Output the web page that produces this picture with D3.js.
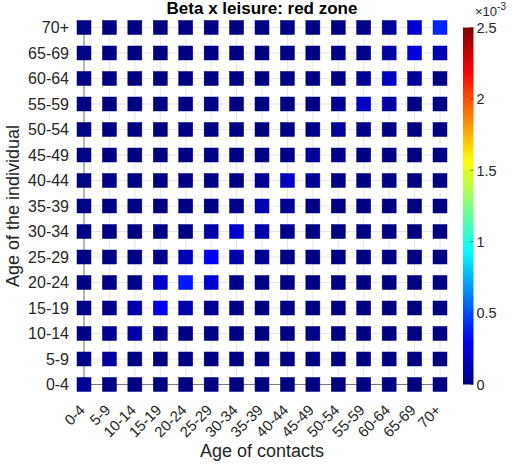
<!DOCTYPE html>
<html>
<head>
<meta charset="utf-8">
<script src="https://cdn.jsdelivr.net/npm/d3@7"></script>
<style>
  html, body { margin: 0; padding: 0; background: #fff; }
  svg { display: block; font-family: "Liberation Sans", Arial, sans-serif; }
</style>
</head>
<body>
<svg id="chart" width="523" height="466"></svg>
<script>
// Age groups used on both axes
const ageGroups = ["0-4","5-9","10-14","15-19","20-24","25-29","30-34","35-39",
                   "40-44","45-49","50-54","55-59","60-64","65-69","70+"];

// Beta x leisure (red zone), in units of 1e-3.
// One row per age of the individual (0-4 first), one column per age of contacts.
const beta_0_4   = [0.055,0.012,0.006,0.005,0.004,0.004,0.005,0.004,0.004,0.003,0.003,0.003,0.003,0.002,0.002];
const beta_5_9   = [0.015,0.080,0.012,0.006,0.004,0.004,0.005,0.005,0.004,0.003,0.003,0.003,0.003,0.002,0.002];
const beta_10_14 = [0.008,0.040,0.090,0.030,0.006,0.005,0.006,0.006,0.005,0.004,0.003,0.003,0.003,0.002,0.002];
const beta_15_19 = [0.005,0.015,0.100,0.270,0.110,0.030,0.008,0.007,0.006,0.005,0.004,0.003,0.003,0.002,0.002];
const beta_20_24 = [0.004,0.006,0.020,0.180,0.370,0.190,0.030,0.012,0.008,0.006,0.005,0.004,0.003,0.003,0.002];
const beta_25_29 = [0.004,0.005,0.008,0.030,0.130,0.280,0.120,0.040,0.012,0.008,0.006,0.004,0.003,0.003,0.002];
const beta_30_34 = [0.005,0.005,0.006,0.010,0.015,0.090,0.200,0.100,0.030,0.010,0.006,0.005,0.004,0.003,0.003];
const beta_35_39 = [0.005,0.005,0.005,0.006,0.008,0.012,0.030,0.110,0.050,0.012,0.008,0.005,0.004,0.003,0.003];
const beta_40_44 = [0.004,0.005,0.005,0.005,0.006,0.008,0.012,0.050,0.160,0.060,0.012,0.006,0.005,0.004,0.003];
const beta_45_49 = [0.004,0.004,0.004,0.005,0.005,0.006,0.008,0.012,0.020,0.050,0.020,0.008,0.006,0.004,0.003];
const beta_50_54 = [0.003,0.004,0.004,0.004,0.005,0.005,0.006,0.008,0.012,0.025,0.060,0.020,0.010,0.006,0.004];
const beta_55_59 = [0.003,0.003,0.004,0.004,0.004,0.005,0.005,0.006,0.008,0.012,0.050,0.160,0.080,0.020,0.006];
const beta_60_64 = [0.003,0.003,0.003,0.004,0.004,0.004,0.005,0.005,0.006,0.008,0.015,0.050,0.160,0.070,0.000];
const beta_65_69 = [0.002,0.003,0.003,0.003,0.004,0.004,0.004,0.005,0.005,0.006,0.010,0.020,0.090,0.240,0.120];
const beta_70p   = [0.002,0.002,0.003,0.003,0.003,0.004,0.004,0.012,0.010,0.006,0.008,0.012,0.060,0.200,0.400];

const betaRows = [beta_0_4, beta_5_9, beta_10_14, beta_15_19, beta_20_24, beta_25_29,
                  beta_30_34, beta_35_39, beta_40_44, beta_45_49, beta_50_54, beta_55_59,
                  beta_60_64, beta_65_69, beta_70p];

const colorTicks = [0, 0.5, 1, 1.5, 2, 2.5];
const colorMax = 2.5;

// MATLAB-style jet colormap
function jet(t) {
  const c = v => Math.max(0, Math.min(1, v));
  const r = c(1.5 - Math.abs(4 * t - 3));
  const g = c(1.5 - Math.abs(4 * t - 2));
  const b = c(1.5 - Math.abs(4 * t - 1));
  return d3.rgb(r * 255, g * 255, b * 255).toString();
}

const svg = d3.select("#chart");
const plotLeft = 84, plotRight = 440, plotTop = 27.5, plotBottom = 384.5;

const x = d3.scalePoint().domain(ageGroups).range([plotLeft, plotRight]);
const y = d3.scalePoint().domain(ageGroups).range([plotBottom, plotTop]);
const color = d3.scaleSequential(jet).domain([0, colorMax]);

// Grid
const grid = svg.append("g").attr("stroke", "#e6e6e6").attr("stroke-width", 1);
ageGroups.forEach(a => {
  grid.append("line").attr("x1", x(a)).attr("x2", x(a)).attr("y1", plotTop).attr("y2", plotBottom);
  grid.append("line").attr("x1", plotLeft).attr("x2", plotRight).attr("y1", y(a)).attr("y2", y(a));
});

// Axis lines
svg.append("line").attr("x1", plotLeft).attr("x2", plotLeft).attr("y1", plotTop).attr("y2", plotBottom)
  .attr("stroke", "#7a7a7a");
svg.append("line").attr("x1", plotLeft).attr("x2", plotRight).attr("y1", plotBottom).attr("y2", plotBottom)
  .attr("stroke", "#7a7a7a");

// Cells
const cells = [];
betaRows.forEach((row, i) => row.forEach((v, j) => cells.push({ ind: ageGroups[i], con: ageGroups[j], v })));
const sz = 14;
svg.append("g").selectAll("rect").data(cells).join("rect")
  .attr("x", d => x(d.con) - sz / 2)
  .attr("y", d => y(d.ind) - sz / 2)
  .attr("width", sz).attr("height", sz)
  .attr("fill", d => color(d.v))
  .attr("stroke", d => color(d.v)).attr("stroke-width", 0.5);

// Y tick labels
svg.append("g").selectAll("text").data(ageGroups).join("text")
  .attr("x", 69).attr("y", d => y(d)).attr("dy", "0.36em")
  .attr("text-anchor", "end").attr("font-size", 16).attr("fill", "#262626")
  .text(d => d);

// X tick labels (rotated)
svg.append("g").selectAll("text").data(ageGroups).join("text")
  .attr("transform", d => `translate(${x(d) + 2},${411}) rotate(-45)`)
  .attr("text-anchor", "end").attr("font-size", 15).attr("fill", "#262626")
  .text(d => d);

// Axis titles
svg.append("text").attr("x", (plotLeft + plotRight) / 2).attr("y", 457)
  .attr("text-anchor", "middle").attr("font-size", 18).attr("fill", "#262626")
  .text("Age of contacts");
svg.append("text").attr("transform", `translate(19,${(plotTop + plotBottom) / 2}) rotate(-90)`)
  .attr("text-anchor", "middle").attr("font-size", 18).attr("fill", "#262626")
  .text("Age of the individual");

// Title
svg.append("text").attr("x", (plotLeft + plotRight) / 2).attr("y", 14)
  .attr("text-anchor", "middle").attr("font-size", 17).attr("font-weight", "bold")
  .attr("fill", "#000").text("Beta x leisure: red zone");

// Colorbar
const cbX = 463, cbW = 10.5;
const cy = d3.scaleLinear().domain([0, colorMax]).range([plotBottom, plotTop]);
const defs = svg.append("defs");
const grad = defs.append("linearGradient").attr("id", "jetgrad")
  .attr("x1", 0).attr("y1", 1).attr("x2", 0).attr("y2", 0);
d3.range(0, 1.0001, 0.02).forEach(t => {
  grad.append("stop").attr("offset", t).attr("stop-color", jet(t));
});
svg.append("rect").attr("x", cbX).attr("y", plotTop).attr("width", cbW).attr("height", plotBottom - plotTop)
  .attr("fill", "url(#jetgrad)");
const cbTicks = svg.append("g");
colorTicks.forEach(t => {
  cbTicks.append("line").attr("x1", cbX + cbW - 3).attr("x2", cbX + cbW)
    .attr("y1", cy(t)).attr("y2", cy(t)).attr("stroke", "#262626").attr("stroke-width", 0.6);
  cbTicks.append("text").attr("x", cbX + cbW + 3).attr("y", cy(t)).attr("dy", "0.36em")
    .attr("font-size", 14.5).attr("fill", "#262626").text(d3.format("~g")(t));
});
const mult = svg.append("text").attr("x", 475).attr("y", 16).attr("font-size", 13).attr("fill", "#262626");
mult.append("tspan").text("\u00d710");
mult.append("tspan").attr("dy", -6).attr("font-size", 10).text("-3");
</script>
</body>
</html>
